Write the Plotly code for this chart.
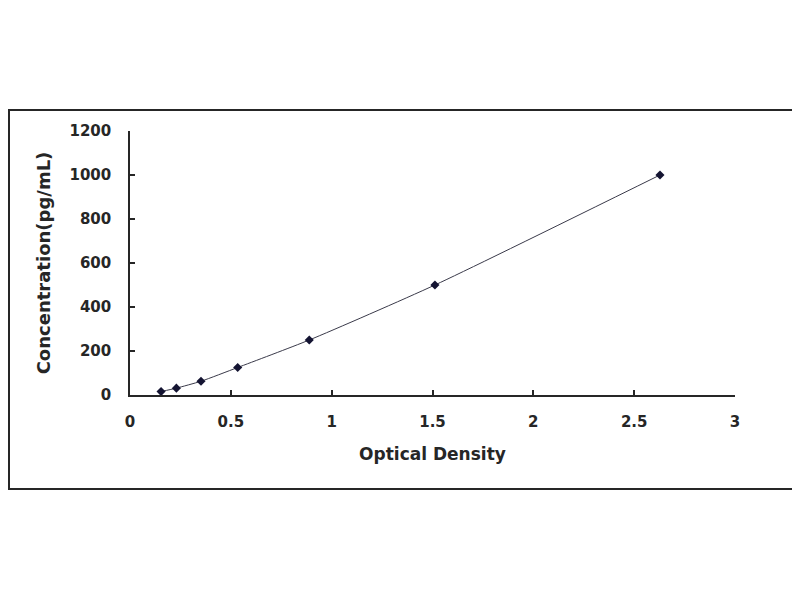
import plotly.graph_objects as go

optical_density = [0.154, 0.23, 0.352, 0.534, 0.889, 1.512, 2.628]
concentration = [15.6, 31.25, 62.5, 125, 250, 500, 1000]

x_ticks = [0, 0.5, 1, 1.5, 2, 2.5, 3]
x_tick_labels = ["0", "0.5", "1", "1.5", "2", "2.5", "3"]
y_ticks = [0, 200, 400, 600, 800, 1000, 1200]
y_tick_labels = ["0", "200", "400", "600", "800", "1000", "1200"]

fig = go.Figure()
fig.add_trace(go.Scatter(
    x=optical_density, y=concentration,
    mode="lines+markers",
    line=dict(color="#3a3a4a", width=1, shape="spline", smoothing=0.6),
    marker=dict(symbol="diamond", size=7, color="#141432"),
    showlegend=False,
))

ink = "#262626"
tickfont = dict(family="DejaVu Sans", size=15, color=ink, weight="bold")

fig.update_layout(
    width=800, height=600,
    paper_bgcolor="white", plot_bgcolor="white",
    margin=dict(l=122, r=73, t=123, b=213, pad=0),
    font=dict(family="DejaVu Sans, sans-serif", size=14, color=ink),
    xaxis=dict(
        range=[0, 3], tickvals=x_ticks, ticktext=x_tick_labels,
        showgrid=False, zeroline=False, showline=True, linecolor=ink, linewidth=1.5,
        ticks="inside", ticklen=5, tickcolor=ink, tickwidth=1.5,
        tickfont=tickfont,
        ticklabelstandoff=12,
        title=dict(text="<b>Optical Density</b>", font=dict(family="DejaVu Sans", size=17, color=ink), standoff=18),
    ),
    yaxis=dict(
        range=[0, 1200], tickvals=y_ticks, ticktext=y_tick_labels,
        showgrid=False, zeroline=False, showline=True, linecolor=ink, linewidth=1.5,
        ticks="inside", ticklen=5, tickcolor=ink, tickwidth=1.5,
        tickfont=tickfont,
        ticklabelstandoff=14,
        title=dict(text="<b>Concentration(pg/mL)</b>", font=dict(family="DejaVu Sans", size=18, color=ink), standoff=14),
    ),
    shapes=[dict(
        type="rect", xref="paper", yref="paper",
        x0=-121/605, x1=(797-130)/605, y0=(395-489)/264, y1=(395-110)/264,
        line=dict(color=ink, width=2), fillcolor="rgba(0,0,0,0)", layer="below",
    )],
)

fig.write_html("out.html")
